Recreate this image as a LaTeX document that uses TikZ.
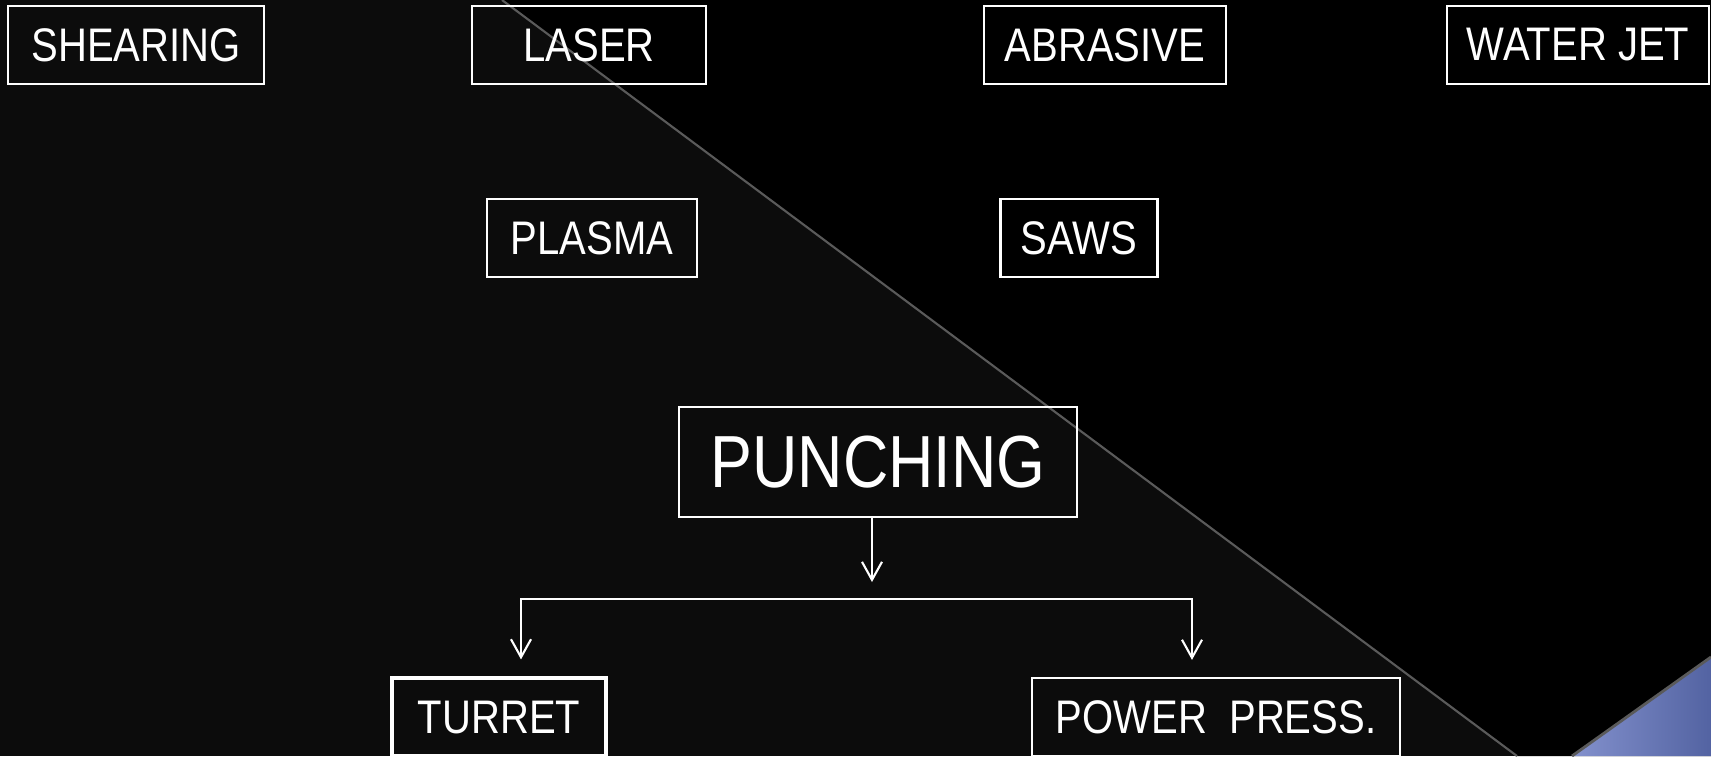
\documentclass[tikz,border=0pt]{standalone}
\usepackage{fontspec}
\setmainfont{Liberation Sans}[FakeStretch=0.85]
\usetikzlibrary{arrows.meta}
\definecolor{bgdark}{HTML}{0C0C0C}
\definecolor{diag}{HTML}{5A5A5A}
\definecolor{blueA}{HTML}{8391CD}
\definecolor{blueB}{HTML}{5363A2}

\begin{document}
\begin{tikzpicture}[x=0.01cm,y=-0.01cm,
 box/.style={draw=white,line width=0.6pt,text=white,inner sep=0pt,minimum height=0.78cm,font=\fontsize{13.4}{16}\selectfont},
 tip/.style={white,line width=0.6pt,{Straight Barb[length=0.18cm,width=0.2cm]}-{Straight Barb[length=0.18cm,width=0.2cm]}}]

\useasboundingbox (0,0) rectangle (1711,756);
\clip (0,0) rectangle (1711,756);

% background
\fill[bgdark] (0,0) rectangle (1711,756);
\fill[black] (502,0) -- (1711,0) -- (1711,756) -- (1517,756) -- cycle;
\draw[diag,line width=0.6pt] (502,0) -- (1517,756);
\shade[left color=blueA,right color=blueB] (1711,657) -- (1572,756) -- (1711,756) -- cycle;
\draw[diag,line width=0.8pt] (1711,657) -- (1572,756);

\node[box,minimum width=2.56cm] (A) at (136,45) {SHEARING};
\node[box,minimum width=2.34cm] (B) at (589,45) {LASER\hspace{0.14cm}};
\node[box,minimum width=2.42cm] (C) at (1105,45) {ABRASIVE};
\node[box,minimum width=2.61cm] (D) at (1578,45) {WATER JET};
\node[box,minimum width=2.09cm] (F) at (592,238) {PLASMA};
\node[box,minimum width=1.57cm] (G) at (1079,238) {SAWS};
\node[box,minimum width=3.97cm,minimum height=1.10cm,font=\fontsize{21}{25}\selectfont] (E) at (878,462) {PUNCHING};
\node[box,minimum width=2.14cm,line width=0.9pt] (H) at (499,717) {TURRET\hspace{0.1cm}};
\node[box,minimum width=3.68cm] (I) at (1216,717) {POWER\ \ PRESS.};

\coordinate (m) at (872,582);
\coordinate (l) at (521,599);
\coordinate (r) at (1192,599);

\draw[white,line width=0.6pt,-{Straight Barb[length=0.18cm,width=0.2cm]}] (E.south -| m) -- (m);
\draw[tip,shorten <=0.17cm,shorten >=0.17cm] (l |- H.north) -- (l) -- (r) -- (r |- I.north);
\end{tikzpicture}
\end{document}
